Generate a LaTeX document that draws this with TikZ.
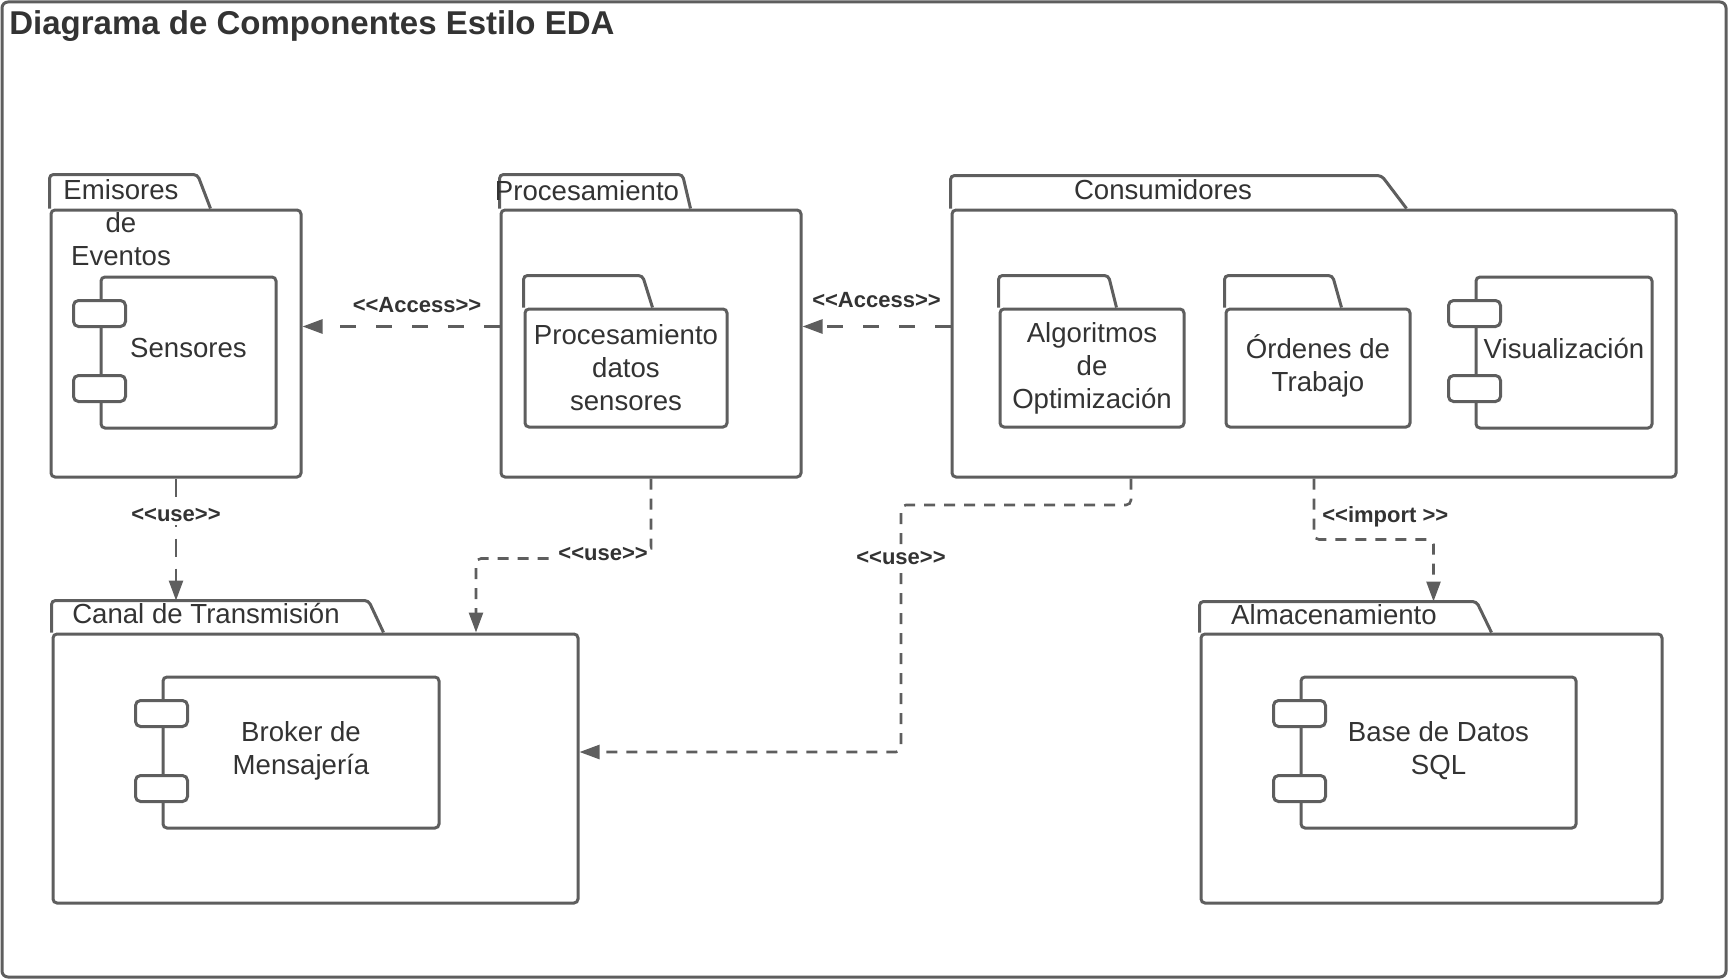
\documentclass[tikz,border=0pt]{standalone}
\usepackage{fontspec}
\setmainfont{Liberation Sans}
\usepackage{xcolor}
\usepackage{tikz}
\usetikzlibrary{arrows.meta,positioning}

\definecolor{linegray}{HTML}{5E5E5E}
\definecolor{textgray}{HTML}{333333}

% stereotype text (the kern keeps << and >> from becoming guillemets)
\newcommand{\stereo}[1]{<\kern0pt<#1>\kern0pt>}
% tab on top of a package body: node, tab width, slant, tab height (px)
\newcommand{\pkgtab}[4]{%
  \draw[tabline] (#1.north west) -- ++(0,-#4) coordinate (#1tab) -- ++(#2,0) -- ++(#3,#4);}

\begin{document}
\begin{tikzpicture}[x=0.5pt,y=-0.5pt,
    pkg/.style={draw=linegray,line width=1.5pt,rounded corners=2pt,inner sep=0pt},
    folder/.style={pkg,text=textgray,font=\fontsize{13.8}{16.5}\selectfont,align=center,minimum height=59pt},
    tabline/.style={draw=linegray,line width=1.5pt,rounded corners=2pt},
    comp/.style={pkg,text=textgray,font=\fontsize{13.8}{16.5}\selectfont,align=center,minimum height=75.5pt},
    port/.style={draw=linegray,fill=white,line width=1.5pt,rounded corners=2.5pt,minimum width=26pt,minimum height=13pt,inner sep=0pt},
    txt/.style={text=textgray,font=\fontsize{13.8}{16.5}\selectfont,align=center,inner sep=0pt},
    lbl/.style={text=textgray,font=\fontsize{11}{13}\selectfont\bfseries,inner sep=1.5pt},
    access/.style={draw=linegray,line width=1.3pt,dash pattern=on 8pt off 10pt,-{Triangle[length=10pt,width=7pt]}},
    uselong/.style={draw=linegray,line width=1.3pt,dash pattern=on 9pt off 6pt,-{Triangle[length=10pt,width=7pt]}},
    useshort/.style={draw=linegray,line width=1.3pt,dash pattern=on 5.5pt off 4.5pt,rounded corners=2.5pt,-{Triangle[length=10pt,width=7pt]}}]

    \useasboundingbox (0,0) rectangle (1729,979);

    % Outer frame and title
    \draw[draw=linegray,line width=1.5pt,rounded corners=3pt] (2,2) rectangle (1726,977);
    \node[anchor=base west,inner sep=0pt,text=textgray,font=\fontsize{16.5}{20}\selectfont\bfseries] (title) at (9,35) {Diagrama de Componentes Estilo EDA};

    % Package bodies
    \node[pkg,minimum width=125pt,minimum height=133.5pt] (emi) at (176,343.5) {};
    \node[pkg,minimum width=150pt,minimum height=133.5pt] (proc) at (651,343.5) {};
    \node[pkg,minimum width=362pt,minimum height=133.5pt] (cons) at (1314,343.5) {};
    \node[pkg,minimum width=262.5pt,minimum height=134.5pt] (canal) at (315.5,768.5) {};
    \node[pkg,minimum width=230.5pt,minimum height=134.5pt] (alm) at (1431.5,768.5) {};

    % Package tabs
    \pkgtab{emi}{148}{13}{34}
    \pkgtab{proc}{183}{8}{34}
    \pkgtab{cons}{431}{25}{33}
    \pkgtab{canal}{317}{15}{32}
    \pkgtab{alm}{277}{15}{31}

    % Package names
    \node[txt] (emilbl) at (121,223) {Emisores\\de\\Eventos};
    \node[txt,anchor=base] (proclbl) at (587,200) {Procesamiento};
    \node[txt,anchor=base] (conslbl) at (1163,199) {Consumidores};
    \node[txt,anchor=base] (canallbl) at (206,623) {Canal de Transmisión};
    \node[txt,anchor=base] (almlbl) at (1334,624) {Almacenamiento};

    % Inner folders
    \node[folder,minimum width=101pt] (procdat) at (626,368) {Procesamiento\\datos\\sensores};
    \node[folder,minimum width=92pt] (algo) at (1092,368) {Algoritmos\\de\\Optimización};
    \node[folder,minimum width=92pt,text depth=5.1pt] (ordenes) at (1318,368) {Órdenes de\\Trabajo};
    \pkgtab{procdat}{119}{10}{32}
    \pkgtab{algo}{110}{8}{32}
    \pkgtab{ordenes}{108}{9}{32}

    % Components
    \node[comp,minimum width=87.5pt,text depth=4.4pt] (sens) at (188.5,352.5) {Sensores};
    \node[comp,minimum width=88pt,text depth=4.4pt] (visu) at (1564,352.5) {Visualización};
    \node[comp,minimum width=138pt,text depth=4.3pt] (broker) at (301,752.5) {Broker de\\Mensajería};
    \node[comp,minimum width=137.5pt,text depth=4.6pt] (bd) at (1438.5,752.5) {Base de Datos\\SQL};
    \foreach \c in {sens,visu,broker,bd}
        \foreach \d [count=\i] in {19,56.5}
            \node[port] (\c p\i) at ([yshift=-\d pt]\c.north west) {};

    % Access dependencies
    \draw[access] ([yshift=8.5pt]proc.west) -- ([yshift=8.5pt]emi.east)
        node[lbl,midway,yshift=10.75pt,xshift=8pt] (acc1) {\stereo{Access}};
    \draw[access] ([yshift=8.5pt]cons.west) -- ([yshift=8.5pt]proc.east)
        node[lbl,midway,yshift=13.25pt] (acc2) {\stereo{Access}};

    % Use dependencies
    \draw[uselong] (emi.south) -- (emi.south |- canaltab)
        node[lbl,fill=white,pos=0.3] (use1) {\stereo{use}};
    \draw[useshort] (proc.south) -- ++(0,80) -|
        node[lbl,fill=white,pos=0.137,yshift=2pt] (use2) {\stereo{use}} ([xshift=80.25pt]canal.north);
    \coordinate (bend) at (901,505);
    \draw[useshort] ([xshift=-91.5pt]cons.south) |- (bend) |- ([yshift=8.25pt]canal.east);
    \node[lbl,fill=white] (use3) at ([yshift=-26.5pt]bend) {\stereo{use}};

    % Import dependency
    \draw[useshort] (cons.south) -- ++(0,61)
        node[lbl,pos=0.62,anchor=west,xshift=2pt] (imp) {\stereo{import }} -| ([xshift=117pt]almtab);
\end{tikzpicture}
\end{document}
